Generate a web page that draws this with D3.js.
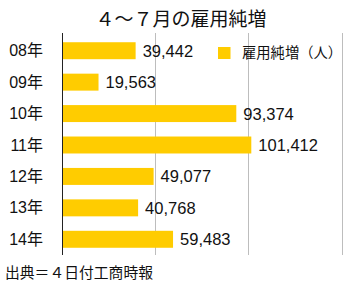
<!DOCTYPE html>
<html><head><meta charset="utf-8">
<script src="https://cdn.jsdelivr.net/npm/d3@7"></script>
<style>body{margin:0;background:#fff;} svg{display:block;}</style>
</head><body>
<script>
const categories = ["08年","09年","10年","11年","12年","13年","14年"];
const values = [39442, 19563, 93374, 101412, 49077, 40768, 59483];
const ticks = [0, 50000, 100000, 150000];
const title = "４～７月の雇用純増";
const legendLabel = "雇用純増（人）";
const source = "出典＝４日付工商時報";

const W = 353, H = 288;
const font = "'Liberation Sans', Arial, 'Noto Sans CJK JP', sans-serif";
const svg = d3.select("body").append("svg").attr("width", W).attr("height", H)
  .style("font-family", font);

const x = d3.scaleLinear().domain([0, 150000]).range([62, 342]);
const y = d3.scaleBand().domain(categories).range([35, 255]).paddingInner(0.46).paddingOuter(0.23);

// gridlines
svg.append("g").selectAll("line").data(ticks.slice(1)).join("line")
  .attr("x1", d => x(d)).attr("x2", d => x(d))
  .attr("y1", 33).attr("y2", 255)
  .attr("stroke", "#bdbdbd").attr("stroke-width", 1).attr("shape-rendering", "crispEdges");

// bars
svg.append("g").selectAll("rect").data(values).join("rect")
  .attr("x", x(0)).attr("y", (d, i) => y(categories[i]))
  .attr("width", d => x(d) - x(0)).attr("height", y.bandwidth())
  .attr("fill", "#FFCC00");

// axis line
svg.append("line").attr("x1", x(0)).attr("x2", x(0)).attr("y1", 33).attr("y2", 255)
  .attr("stroke", "#222").attr("stroke-width", 1).attr("shape-rendering", "crispEdges");

// category labels
svg.append("g").selectAll("text").data(categories).join("text")
  .attr("x", 43).attr("y", d => y(d) + y.bandwidth() / 2)
  .attr("text-anchor", "end").attr("dominant-baseline", "central")
  .attr("font-size", 16).attr("fill", "#111").text(d => d);

// value labels
const fmt = d3.format(",");
svg.append("g").selectAll("text").data(values).join("text")
  .attr("x", d => x(d) + 7).attr("y", (d, i) => y(categories[i]) + y.bandwidth() / 2)
  .attr("dominant-baseline", "central")
  .attr("font-size", 16.5).attr("fill", "#111").text(d => fmt(d));

// title
svg.append("text").attr("x", 181).attr("y", 26).attr("text-anchor", "middle")
  .attr("font-size", 19).attr("fill", "#111").text(title);

// legend
svg.append("rect").attr("x", 218).attr("y", 47).attr("width", 12.5).attr("height", 12).attr("fill", "#FFCC00");
svg.append("text").attr("x", 242).attr("y", 53).attr("dominant-baseline", "central")
  .attr("font-size", 14.3).attr("fill", "#111").text(legendLabel);

// source
svg.append("text").attr("x", 5).attr("y", 273).attr("dominant-baseline", "central")
  .attr("font-size", 14.8).attr("fill", "#111").text(source);
</script>
</body></html>
